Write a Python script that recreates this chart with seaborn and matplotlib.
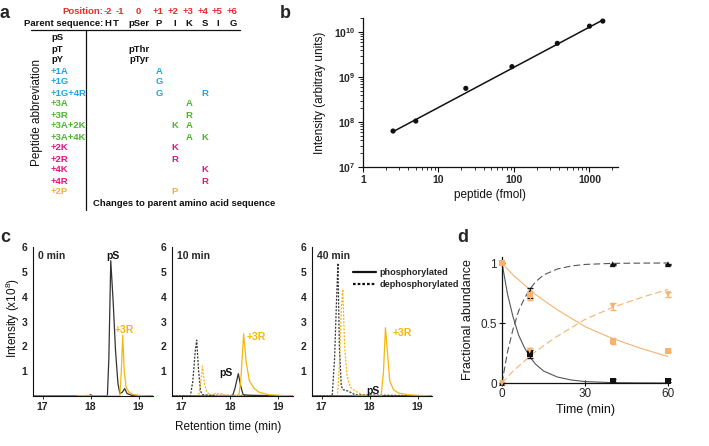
import matplotlib
matplotlib.use("Agg")
import matplotlib.pyplot as plt
from matplotlib.lines import Line2D
from matplotlib.ticker import LogLocator, FixedLocator, NullFormatter
import seaborn as sns

sns.set_theme(style="ticks")
plt.rcParams['font.family'] = ['Liberation Sans', 'DejaVu Sans']
plt.rcParams['mathtext.fontset'] = 'custom'
plt.rcParams['mathtext.rm'] = 'Liberation Sans'
plt.rcParams['mathtext.bf'] = 'Liberation Sans:bold'

W, H = 709, 446

# ---------------- panel a: peptide table ----------------
POSITIONS = ["-2", "-1", "0", "+1", "+2", "+3", "+4", "+5", "+6"]
PARENT = ["H", "T", "pSer", "P", "I", "K", "S", "I", "G"]
PEPTIDES = ["pS", "pT", "pY", "+1A", "+1G", "+1G+4R", "+3A", "+3R",
            "+3A+2K", "+3A+4K", "+2K", "+2R", "+4K", "+4R", "+2P"]
PEPTIDE_GROUP = ["site", "site", "site", "p1", "p1", "p1", "p3", "p3",
                 "p3", "p3", "basic", "basic", "basic", "basic", "pro"]
CHANGES = [{}, {0: "pThr"}, {0: "pTyr"}, {1: "A"}, {1: "G"}, {1: "G", 4: "R"},
           {3: "A"}, {3: "R"}, {2: "K", 3: "A"}, {3: "A", 4: "K"},
           {2: "K"}, {2: "R"}, {4: "K"}, {4: "R"}, {2: "P"}]
GROUP_COLORS = {"site": "#111111", "p1": "#1BA6E0", "p3": "#4DB52E",
                "basic": "#E5127E", "pro": "#F6AE3C"}

# ---------------- panel b: standard curve ----------------
B_AMOUNT = [2.5, 5, 23, 94, 375, 1000, 1500]
B_INTENSITY = [6.3e7, 1.05e8, 5.6e8, 1.7e9, 5.6e9, 1.35e10, 1.75e10]
FIT_AMOUNT = [2.5, 1500]
FIT_INTENSITY = [6.1e7, 1.85e10]

# ---------------- panel c: chromatograms ----------------
T0_PS_RT = [16.8, 17.95, 18.0, 18.05, 18.35, 18.38, 18.42, 18.47, 18.52, 18.57,
            18.61, 18.66, 18.71, 18.76, 18.85, 19.3]
T0_PS_INT = [0, 0, 0.05, 0, 0, 1.5, 5.45, 3.8, 1.8, 0.5, 0.1, 0.15, 0.3, 0.1, 0.03, 0]
T0_R3_RT = [17.72, 17.95, 18.0, 18.05, 18.61, 18.64, 18.67, 18.70, 18.74, 18.8,
            18.9, 19.0, 19.3]
T0_R3_INT = [0, 0.03, 0, 0, 0, 1.0, 2.45, 1.0, 0.35, 0.15, 0.05, 0.02, 0]

T10_PS_DEPH_RT = [16.8, 17.18, 17.23, 17.28, 17.31, 17.35, 17.39, 17.43, 17.6, 19.3]
T10_PS_DEPH_INT = [0, 0, 0.6, 1.8, 2.25, 1.0, 0.2, 0.05, 0.03, 0]
T10_R3_DEPH_RT = [16.8, 17.35, 17.39, 17.43, 17.47, 17.52, 17.6, 17.7, 17.8, 17.9, 19.3]
T10_R3_DEPH_INT = [0, 0, 0.5, 1.2, 0.5, 0.15, 0.05, 0.1, 0.1, 0.03, 0]
T10_PS_RT = [16.8, 18.05, 18.1, 18.17, 18.22, 18.27, 18.4, 19.3]
T10_PS_INT = [0, 0, 0.3, 0.9, 0.4, 0.05, 0.03, 0]
T10_R3_RT = [17.7, 18.18, 18.22, 18.28, 18.33, 18.4, 18.5, 18.6, 18.8, 19.3]
T10_R3_INT = [0, 0, 0.6, 2.5, 1.4, 0.6, 0.3, 0.15, 0.05, 0]

T40_PS_DEPH_RT = [16.8, 17.22, 17.27, 17.31, 17.34, 17.37, 17.41, 17.45, 17.55, 17.7, 19.3]
T40_PS_DEPH_INT = [0, 0, 1.5, 3.8, 5.35, 2.0, 0.4, 0.25, 0.2, 0.05, 0]
T40_R3_DEPH_RT = [16.8, 17.33, 17.37, 17.41, 17.44, 17.48, 17.53, 17.6, 17.7, 17.85, 18.0, 19.3]
T40_R3_DEPH_INT = [0, 0, 1.2, 3.5, 4.3, 2.0, 0.8, 0.35, 0.2, 0.05, 0, 0]
T40_PS_RT = [16.8, 17.95, 18.0, 18.05, 19.3]
T40_PS_INT = [0, 0, 0.04, 0, 0]
T40_R3_RT = [17.7, 18.24, 18.29, 18.33, 18.37, 18.42, 18.5, 18.6, 18.8, 19.3]
T40_R3_INT = [0, 0, 1.0, 2.75, 1.8, 0.6, 0.25, 0.12, 0.05, 0]

# ---------------- panel d: time course ----------------
TIME = [0, 10, 40, 60]
PS_PHOS = [1.0, 0.24, 0.02, 0.02]
PS_PHOS_ERR = [0, 0.035, 0.01, 0.01]
PS_DEPH = [0.0, 0.75, 0.99, 0.99]
PS_DEPH_ERR = [0, 0.04, 0.005, 0.005]
R3_PHOS = [1.0, 0.73, 0.35, 0.27]
R3_PHOS_ERR = [0, 0.035, 0.025, 0.015]
R3_DEPH = [0.0, 0.27, 0.64, 0.74]
R3_DEPH_ERR = [0, 0.02, 0.03, 0.02]

CURVE_T = [0, 2, 4, 6, 8, 10, 12, 15, 20, 25, 30, 40, 50, 60]
PS_PHOS_FIT = [1, .74, .55, .40, .30, .22, .16, .10, .05, .025, .012, .003, .001, 0]
PS_DEPH_FIT = [0, .26, .45, .60, .70, .78, .84, .90, .95, .975, .988, .997, .999, 1.0]
R3_PHOS_FIT = [1, .95, .90, .86, .82, .78, .74, .69, .61, .54, .47, .37, .29, .22]
R3_DEPH_FIT = [0, .05, .10, .14, .18, .22, .26, .31, .39, .46, .53, .63, .71, .78]

DARK = "#333333"
YELLOW = "#F5B70A"
LIGHT_ORANGE = "#F6B36F"
RED = "#E42E2B"


def px_axes(fig, left, top, right, bottom):
    return fig.add_axes([left / W, 1 - bottom / H, (right - left) / W, (bottom - top) / H])


fig = plt.figure(figsize=(W / 100, H / 100), dpi=100)

# overlay in pixel coordinates for the table, labels and panel letters
ov = fig.add_axes([0, 0, 1, 1])
ov.set_xlim(0, W)
ov.set_ylim(H, 0)
ov.axis("off")
ov.set_zorder(10)
ov.patch.set_visible(False)

for letter, (lx, ly) in zip("abcd", [(5, 13), (285, 13), (5, 238), (463, 237)]):
    ov.text(lx, ly, letter, fontsize=13, fontweight="bold", ha="center", va="center")

# ---- panel a ----
COL_X = [108, 116, 139, 159, 175, 189, 205, 218, 233]
POS_X = [108, 120, 138, 158, 173, 188, 203, 217, 232]
ROW_Y0, ROW_DY = 38, 11
tkw = dict(fontsize=6.8, fontweight="bold", va="center")

ov.text(103, 12, "Position:", color=RED, ha="right", **tkw)
for pos, x in zip(POSITIONS, POS_X):
    ov.text(x, 12, pos, color=RED, ha="center", **tkw)
ov.text(103, 24, "Parent sequence:", ha="right", color="#111111", **tkw)
for aa, x in zip(PARENT, COL_X):
    ov.text(x, 24, aa, ha="center", color="#111111", **tkw)
ov.plot([31, 240], [29.5, 29.5], color="#111111", lw=0.9)
ov.plot([86, 86], [29.5, 210], color="#111111", lw=0.9)

for i, (name, grp, chg) in enumerate(zip(PEPTIDES, PEPTIDE_GROUP, CHANGES)):
    y = ROW_Y0 + ROW_DY * i
    col = GROUP_COLORS[grp]
    ov.text(51, y, name, ha="left", color=col, **tkw)
    for pos_idx, aa in chg.items():
        ov.text(COL_X[pos_idx + 2], y, aa, ha="center", color=col, **tkw)

ov.text(93, 204, "Changes to parent amino acid sequence", ha="left", color="#111111", **tkw)
ov.text(37, 112, "Peptide abbreviation", rotation=90, ha="center", va="center",
        fontsize=8.5, color="#111111")

# ---- panel b ----
axb = px_axes(fig, 363, 18, 618, 167)
sns.lineplot(x=FIT_AMOUNT, y=FIT_INTENSITY, ax=axb, color="#111111", lw=1.1)
sns.scatterplot(x=B_AMOUNT, y=B_INTENSITY, ax=axb, color="#111111", s=14,
                edgecolor="none", zorder=3)
axb.set_xscale("log")
axb.set_yscale("log")
axb.set_xlim(1, 2385)
axb.set_ylim(1e7, 2.05e10)
axb.xaxis.set_major_locator(FixedLocator([1, 10, 100, 1000]))
axb.set_xticklabels(["1", "10", "100", "1000"])
axb.yaxis.set_major_locator(FixedLocator([1e7, 1e8, 1e9, 1e10]))
axb.set_yticklabels([r"$\mathbf{10^{7}}$", r"$\mathbf{10^{8}}$",
                     r"$\mathbf{10^{9}}$", r"$\mathbf{10^{10}}$"])
for axis in (axb.xaxis, axb.yaxis):
    axis.set_minor_locator(LogLocator(base=10, subs=range(2, 10), numticks=20))
    axis.set_minor_formatter(NullFormatter())
axb.tick_params(which="major", length=3.5, width=0.8, labelsize=7.5, pad=2, color="#111111")
axb.tick_params(which="minor", length=2, width=0.6, color="#111111")
for lab in axb.get_xticklabels():
    lab.set_fontweight("bold")
sns.despine(ax=axb)
for sp in ("left", "bottom"):
    axb.spines[sp].set_color("#111111")
    axb.spines[sp].set_linewidth(0.9)
axb.set_xlabel("peptide (fmol)", fontsize=8.5, labelpad=3, color="#111111")
axb.set_ylabel("Intensity (arbitray units)", fontsize=8.5, labelpad=6, color="#111111")

# ---- panel c ----
c_specs = [
    (33, 153, "0 min", [(T0_PS_RT, T0_PS_INT, DARK, "-"), (T0_R3_RT, T0_R3_INT, YELLOW, "-")],
     [(113, 256, "pS", "#111111"), (124, 330, "+3R", YELLOW)]),
    (172, 293, "10 min", [(T10_PS_DEPH_RT, T10_PS_DEPH_INT, DARK, ":"),
                          (T10_R3_DEPH_RT, T10_R3_DEPH_INT, YELLOW, ":"),
                          (T10_PS_RT, T10_PS_INT, DARK, "-"),
                          (T10_R3_RT, T10_R3_INT, YELLOW, "-")],
     [(226, 373, "pS", "#111111"), (256, 337, "+3R", YELLOW)]),
    (312, 432, "40 min", [(T40_PS_DEPH_RT, T40_PS_DEPH_INT, DARK, ":"),
                          (T40_R3_DEPH_RT, T40_R3_DEPH_INT, YELLOW, ":"),
                          (T40_PS_RT, T40_PS_INT, DARK, "-"),
                          (T40_R3_RT, T40_R3_INT, YELLOW, "-")],
     [(373, 391, "pS", "#111111"), (402, 333, "+3R", YELLOW)]),
]
for left, right, title, traces, labels in c_specs:
    ax = px_axes(fig, left, 247, right, 396)
    for rt, inten, col, ls in traces:
        sns.lineplot(x=rt, y=inten, ax=ax, color=col, lw=0.9, sort=False, estimator=None,
                     linestyle=(0, (1.6, 1.2)) if ls == ":" else "-")
    ax.set_xlim(16.8, 19.3)
    ax.set_ylim(0, 6)
    ax.set_xticks([17, 18, 19])
    ax.set_yticks([1, 2, 3, 4, 5, 6])
    ax.tick_params(axis="y", length=0, pad=4, labelsize=7.5)
    ax.tick_params(axis="x", length=2.5, width=0.7, pad=1.5, labelsize=7.5)
    for lab in ax.get_xticklabels() + ax.get_yticklabels():
        lab.set_fontweight("bold")
    sns.despine(ax=ax)
    for sp in ("left", "bottom"):
        ax.spines[sp].set_color("#111111")
        ax.spines[sp].set_linewidth(0.8)
    ax.set_xlabel("")
    ax.set_ylabel("")
    ov.text(left + 5, 256, title, fontsize=7.5, fontweight="bold", va="center", ha="left")
    for tx, ty, txt, col in labels:
        ov.text(tx, ty, txt, fontsize=7.5, fontweight="bold", va="center", ha="center", color=col)

ov.text(13, 318, r"Intensity (x10$^{8}$)", rotation=90, ha="center", va="center",
        fontsize=8.5, color="#111111")
ov.text(228, 427, "Retention time (min)", ha="center", va="center", fontsize=8.5, color="#111111")

handles = [Line2D([], [], color="#111111", lw=1.6),
           Line2D([], [], color="#111111", lw=1.6, linestyle=(0, (1.2, 0.9)))]
fig.legend(handles, ["phosphorylated", "dephosphorylated"], loc="upper left",
           bbox_to_anchor=(353 / W, 1 - 268 / H), frameon=False,
           prop=dict(size=6.6, weight="bold"), handlelength=2.5, handletextpad=0.35,
           labelspacing=0.35, borderpad=0, borderaxespad=0)

# ---- panel d ----
axd = px_axes(fig, 502, 257, 668, 383)
sns.lineplot(x=CURVE_T, y=PS_PHOS_FIT, ax=axd, color="#555555", lw=0.8)
sns.lineplot(x=CURVE_T, y=PS_DEPH_FIT, ax=axd, color="#555555", lw=0.8,
             linestyle=(0, (6, 3)))
sns.lineplot(x=CURVE_T, y=R3_PHOS_FIT, ax=axd, color=LIGHT_ORANGE, lw=0.8)
sns.lineplot(x=CURVE_T, y=R3_DEPH_FIT, ax=axd, color=LIGHT_ORANGE, lw=0.8,
             linestyle=(0, (6, 3)))
for vals, err, col, mk in [(PS_PHOS, PS_PHOS_ERR, "#111111", "s"),
                           (PS_DEPH, PS_DEPH_ERR, "#111111", "^"),
                           (R3_PHOS, R3_PHOS_ERR, LIGHT_ORANGE, "s"),
                           (R3_DEPH, R3_DEPH_ERR, LIGHT_ORANGE, "v")]:
    axd.errorbar(TIME, vals, yerr=err, fmt="none", ecolor=col, elinewidth=0.8,
                 capsize=2, clip_on=False)
    sns.scatterplot(x=TIME, y=vals, ax=axd, color=col, marker=mk, s=18,
                    edgecolor="none", zorder=4, clip_on=False)
axd.set_xlim(0, 60)
axd.set_ylim(0, 1.05)
axd.set_xticks([0, 30, 60])
axd.set_yticks([0, 0.5, 1])
axd.set_yticklabels(["0", "0.5", "1"])
axd.tick_params(direction="inout", length=5, width=0.8, labelsize=8.5, pad=1,
                color="#111111")
sns.despine(ax=axd)
for sp in ("left", "bottom"):
    axd.spines[sp].set_color("#111111")
    axd.spines[sp].set_linewidth(0.9)
axd.set_xlabel("Time (min)", fontsize=9, labelpad=3, color="#111111")
axd.set_ylabel("Fractional abundance", fontsize=9, labelpad=5, color="#111111")

fig.savefig("out.png", dpi=100)
